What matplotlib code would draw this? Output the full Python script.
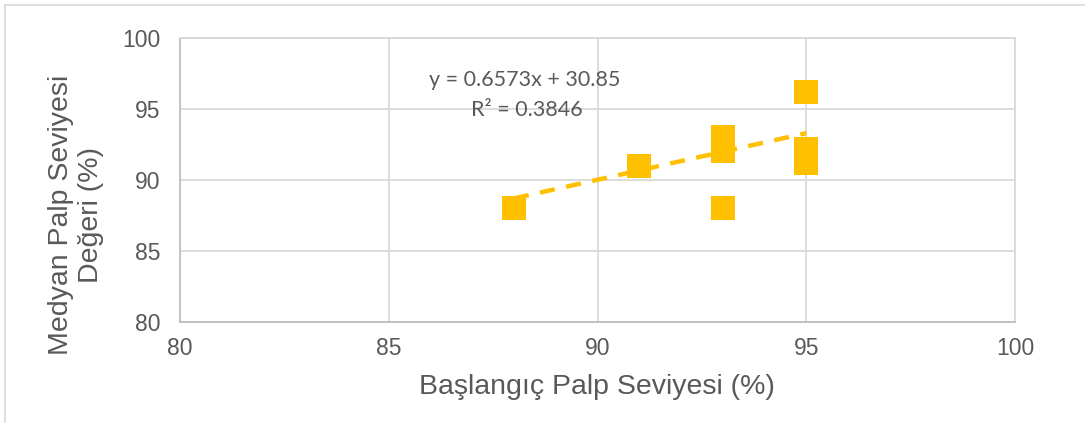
import matplotlib.pyplot as plt
from matplotlib.lines import Line2D

# baseline vs median palp level (%)
baslangic = [88, 91, 93, 93, 93, 95, 95, 95]
medyan = [88.0, 91.0, 93.0, 92.0, 88.0, 96.2, 92.2, 91.2]

# trendline as reported on the chart
slope = 0.6573
intercept = 30.85
r2 = 0.3846

x_ticks = [80, 85, 90, 95, 100]
y_ticks = [80, 85, 90, 95, 100]

gold = '#FFC000'
grid_col = '#D9D9D9'
text_col = '#595959'

W, H = 1085, 423
fig = plt.figure(figsize=(W / 100, H / 100), dpi=100)
ax = fig.add_axes([180 / W, 1 - 321.7 / H, 835 / W, 283.7 / H])

# chart frame (only top and left edges visible in the crop)
fig.lines.append(Line2D([5 / W, 1.0], [1 - 5 / H] * 2, transform=fig.transFigure,
                        color=grid_col, lw=1.2))
fig.lines.append(Line2D([5 / W] * 2, [0, 1 - 5 / H], transform=fig.transFigure,
                        color=grid_col, lw=1.2))

ax.scatter(baslangic, medyan, marker='s', s=17 ** 2, color=gold, zorder=3,
           linewidths=0)

x0, x1 = min(baslangic), max(baslangic)
ax.plot([x0, x1], [slope * x0 + intercept, slope * x1 + intercept],
        color=gold, lw=3.2, dashes=(3.4, 2.6), zorder=4)

# trendline equation, two lines like the spreadsheet label
ax.text(88.25, 97.05, f'y = {slope}x + {intercept}',
        ha='center', va='center', fontsize=15.5, color=text_col, family='Lato')
ax.text(88.3, 94.9, f'R\u00b2 = {r2}',
        ha='center', va='center', fontsize=15.5, color=text_col, family='Lato')

ax.set_xlim(80, 100)
ax.set_ylim(80, 100)
ax.set_xticks(x_ticks)
ax.set_yticks(y_ticks)
ax.grid(True, color=grid_col, lw=1.3)
ax.set_axisbelow(True)
for s in ax.spines.values():
    s.set_color(grid_col)
    s.set_linewidth(1.3)
ax.spines['left'].set_color('#BFBFBF')
ax.spines['bottom'].set_color('#BFBFBF')
ax.tick_params(length=0, labelsize=16.5, labelcolor=text_col)
ax.tick_params(axis='x', pad=11)
ax.tick_params(axis='y', pad=14)
for lab in ax.get_xticklabels() + ax.get_yticklabels():
    lab.set_family('Liberation Sans')

fig.text(597 / W, 1 - 387 / H, 'Başlangıç Palp Seviyesi (%)',
         ha='center', va='center', fontsize=20.5, color=text_col,
         family='Liberation Sans')
fig.text(76 / W, 1 - 215 / H, 'Medyan Palp Seviyesi\nDeğeri (%)',
         ha='center', va='center', rotation=90, fontsize=20.5, color=text_col,
         family='Liberation Sans', linespacing=1.2)

fig.savefig('out.png', dpi=100)
